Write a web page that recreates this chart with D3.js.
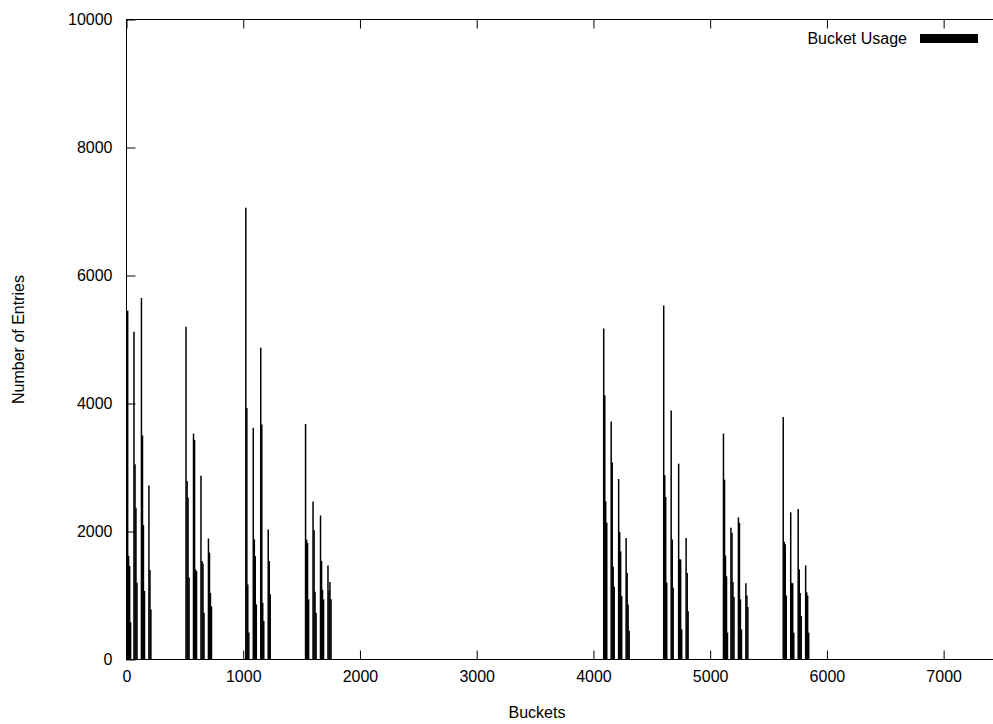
<!DOCTYPE html>
<html>
<head>
<meta charset="utf-8">
<script src="https://cdn.jsdelivr.net/npm/d3@7"></script>
<style>
  body { margin: 0; background: #fff; }
  svg { display: block; }
  text { font-family: "Liberation Sans", Arial, Helvetica, sans-serif; }
</style>
</head>
<body>
<svg id="chart" width="993" height="724"></svg>
<script>
// ---- data ----
const buckets = [
  10, 18, 27, 35,   64, 73, 81, 90,   128, 137, 145, 154,   192, 201, 209,
  510, 519, 527, 536,   574, 583, 591, 600,   638, 647, 655, 664,   702, 711, 719, 728,
  1022, 1031, 1039, 1048,   1086, 1095, 1103, 1112,   1150, 1159, 1167, 1176,   1214, 1223, 1231,
  1534, 1543, 1551, 1560,   1598, 1607, 1615, 1624,   1662, 1671, 1679, 1688,   1726, 1735, 1743, 1752,
  4088, 4097, 4105, 4114,   4152, 4161, 4169, 4178,   4216, 4225, 4233, 4242,   4280, 4289, 4297, 4306,
  4602, 4611, 4619, 4628,   4666, 4675, 4683,   4730, 4739, 4747, 4756,   4794, 4803, 4811,
  5114, 5123, 5131, 5140, 5148,   5178, 5187, 5195, 5204,   5242, 5251, 5259, 5268,   5306, 5315, 5323,
  5626, 5635, 5643, 5652,   5690, 5699, 5707, 5716,   5754, 5763, 5771, 5780,   5818, 5827, 5835, 5844
];
const entries = [
  5450, 1620, 1460, 580,   5120, 3050, 2370, 1200,   5650, 3500, 2100, 1070,   2720, 1400, 780,
  5200, 2790, 2530, 1280,   3530, 3430, 1410, 1380,   2870, 1540, 1500, 730,   1890, 1670, 1040, 830,
  7060, 3930, 1170, 420,   3620, 1875, 1615, 860,   4870, 3670, 885, 600,   2030, 1540, 1020,
  3680, 1875, 1820, 940,   2470, 2020, 1060, 730,   2250, 1540, 1090, 940,   1470, 1080, 1210, 940,
  5170, 4130, 2470, 2140,   3720, 3080, 1450, 1135,   2820, 1990, 1690, 990,   1900, 1350, 860, 450,
  5530, 2880, 2540, 1200,   3890, 1875, 1120,   3060, 1570, 1560, 470,   1900, 1350, 755,
  3530, 2810, 1625, 1300, 420,   2060, 1980, 1210, 975,   2220, 2135, 940, 470,   1190, 1000, 820,
  3790, 1840, 1800, 1000,   2300, 1200, 1190, 420,   2350, 1410, 1040, 680,   1470, 1050, 1000, 420
];
const xTicks = [0, 1000, 2000, 3000, 4000, 5000, 6000, 7000];
const yTicks = [0, 2000, 4000, 6000, 8000, 10000];
const xDomain = [0, 7500];
const yDomain = [0, 10000];
const seriesName = "Bucket Usage";
const xTitle = "Buckets";
const yTitle = "Number of Entries";

// ---- layout ----
const svg = d3.select("#chart");
const plotL = 126.5, plotR = 1002, plotT = 19.5, plotB = 659.5;
const fontSize = 16;

const x = d3.scaleLinear().domain(xDomain).range([plotL, plotR]);
const y = d3.scaleLinear().domain(yDomain).range([plotB, plotT]);

const data = buckets.map((b, i) => ({ b, v: entries[i] }));

// impulses
svg.append("g")
  .selectAll("line")
  .data(data)
  .join("line")
  .attr("x1", d => x(d.b))
  .attr("x2", d => x(d.b))
  .attr("y1", y(0))
  .attr("y2", d => y(d.v))
  .attr("stroke", "#000")
  .attr("stroke-width", 1.5);

// axes (gnuplot style: inward ticks on all four sides)
const tick = 9;
function styleAxis(g) {
  g.select(".domain").remove();
  g.selectAll(".tick line").attr("stroke", "#000").attr("stroke-width", 1);
  g.selectAll("text").attr("font-size", fontSize).attr("fill", "#000")
    .attr("font-family", '"Liberation Sans", Arial, sans-serif');
}
svg.append("g").attr("transform", `translate(0,${plotB})`)
  .call(d3.axisBottom(x).tickValues(xTicks).tickSizeInner(-tick).tickSizeOuter(0).tickPadding(11).tickFormat(d3.format("d")))
  .call(styleAxis);
svg.append("g").attr("transform", `translate(0,${plotT})`)
  .call(d3.axisTop(x).tickValues(xTicks).tickSizeInner(-tick).tickSizeOuter(0).tickFormat(""))
  .call(styleAxis);
svg.append("g").attr("transform", `translate(${plotL},0)`)
  .call(d3.axisLeft(y).tickValues(yTicks).tickSizeInner(-tick).tickSizeOuter(0).tickPadding(14).tickFormat(d3.format("d")))
  .call(styleAxis);
svg.append("g").attr("transform", `translate(${plotR},0)`)
  .call(d3.axisRight(y).tickValues(yTicks).tickSizeInner(-tick).tickSizeOuter(0).tickFormat(""))
  .call(styleAxis);

// border
svg.append("rect")
  .attr("x", plotL).attr("y", plotT)
  .attr("width", plotR - plotL).attr("height", plotB - plotT)
  .attr("fill", "none").attr("stroke", "#000").attr("stroke-width", 1);

// titles
svg.append("text")
  .attr("x", 537).attr("y", 712)
  .attr("text-anchor", "middle").attr("dominant-baseline", "central")
  .attr("font-size", fontSize)
  .text(xTitle);
svg.append("text")
  .attr("transform", `translate(18,${(plotT + plotB) / 2}) rotate(-90)`)
  .attr("text-anchor", "middle").attr("dominant-baseline", "central")
  .attr("font-size", fontSize)
  .text(yTitle);

// legend
svg.append("text")
  .attr("x", 907).attr("y", 38)
  .attr("text-anchor", "end").attr("dominant-baseline", "central")
  .attr("font-size", fontSize)
  .text(seriesName);
svg.append("rect")
  .attr("x", 920).attr("y", 34)
  .attr("width", 58).attr("height", 9)
  .attr("fill", "#000");
</script>
</body>
</html>
